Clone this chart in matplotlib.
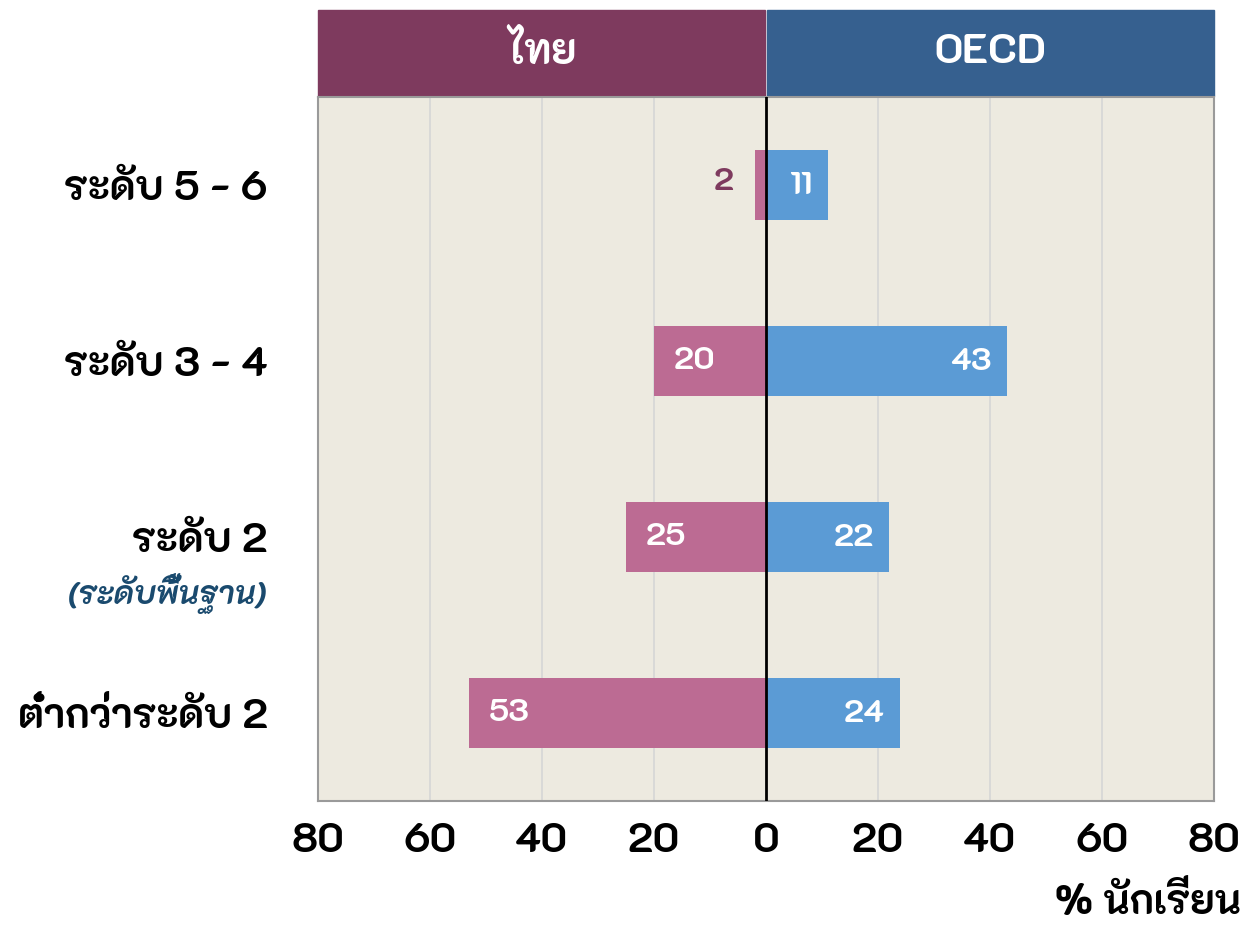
import matplotlib
matplotlib.use("Agg")
import matplotlib.pyplot as plt
from matplotlib.patches import Rectangle
import matplotlib.transforms as mtransforms

# data
levels = ["ระดับ 5 - 6", "ระดับ 3 - 4", "ระดับ 2", "ต่ำกว่าระดับ 2"]
thai = [2, 20, 25, 53]
oecd = [11, 43, 22, 24]
ticks = [-80, -60, -40, -20, 0, 20, 40, 60, 80]

plt.rcParams["font.family"] = ["K2D", "Prompt", "DejaVu Sans"]

thai_c = "#BC6B93"
oecd_c = "#5B9BD5"
thai_head = "#7E3A5E"
oecd_head = "#36608F"

fig = plt.figure(figsize=(12.5, 9.27), dpi=100)
ax = fig.add_axes([0.2544, 0.1359, 0.7168, 0.7594])
ax.set_facecolor("#EDEAE0")

y = list(range(len(levels)))
ax.barh(y, [-v for v in thai], height=0.4, color=thai_c, zorder=2)
ax.barh(y, oecd, height=0.4, color=oecd_c, zorder=2)

for i, v in enumerate(thai):
    if v < 5:
        ax.annotate(str(v), (-v, i), xytext=(-15, 2), textcoords="offset points",
                    ha="right", va="center", fontsize=23, fontweight="bold",
                    color=thai_head, zorder=3)
    else:
        ax.annotate(str(v), (-v, i), xytext=(14, 0), textcoords="offset points",
                    ha="left", va="center", fontsize=23, fontweight="bold",
                    color="white", zorder=3)
for i, v in enumerate(oecd):
    ax.annotate(str(v), (v, i), xytext=(-11, -1), textcoords="offset points",
                ha="right", va="center", fontsize=23, fontweight="bold",
                color="white", zorder=3)

ax.axvline(0, color="black", lw=2, zorder=4)
for t in ticks:
    if t not in (-80, 0, 80):
        ax.axvline(t, color="#D6D6D6", lw=1.2, zorder=1)

ax.set_xlim(-80, 80)
ax.set_ylim(3.5, -0.5)
ax.set_xticks(ticks)
ax.set_xticklabels([str(abs(t)) for t in ticks], fontsize=29, fontweight="bold")
ax.set_yticks(y)
ax.set_yticklabels(levels, fontsize=29.5, fontweight="bold")
ax.tick_params(axis="x", length=0, pad=16)
ax.tick_params(axis="y", length=0, pad=36)
for s in ax.spines.values():
    s.set_color("#9A9A9A")
    s.set_linewidth(1.5)

# subtitle under level 2
tr = mtransforms.blended_transform_factory(ax.transAxes, ax.transData)
ax.text(-0.057, 2.32, "(ระดับพื้นฐาน)", transform=tr, ha="right", va="center",
        fontsize=23, fontweight="bold", fontstyle="italic", color="#1A4A6E")

# header boxes
xt = ax.get_xaxis_transform()
ax.add_patch(Rectangle((-80, 1.002), 79.8, 0.122, transform=xt, clip_on=False,
                       color=thai_head))
ax.add_patch(Rectangle((0.2, 1.002), 79.8, 0.122, transform=xt, clip_on=False,
                       color=oecd_head))
ax.text(-40, 1.063, "ไทย", transform=xt, ha="center", va="center",
        fontsize=30, fontweight="bold", color="white")
ax.text(40, 1.063, "OECD", transform=xt, ha="center", va="center",
        fontsize=30, fontweight="bold", color="white")

fig.text(0.993, 0.004, "% นักเรียน", ha="right", va="bottom",
         fontsize=29, fontweight="bold")

fig.savefig("out.png", dpi=100)
